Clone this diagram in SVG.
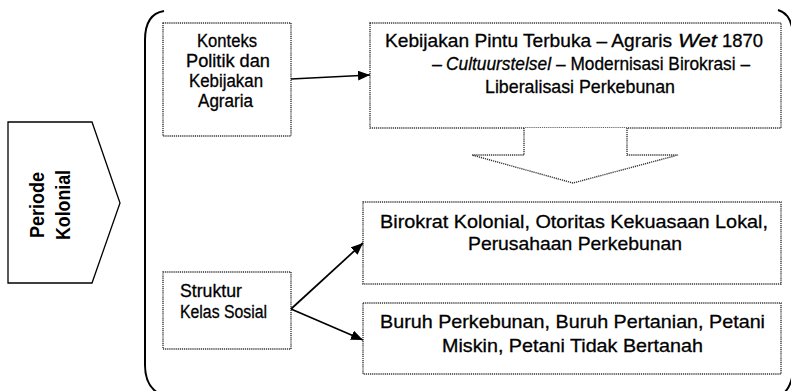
<svg xmlns="http://www.w3.org/2000/svg" width="791" height="391" viewBox="0 0 791 391">
<style>
.box{fill:#fff;stroke:#333;stroke-width:1.4;stroke-dasharray:1.2 0.9}
.t{font-family:"Liberation Sans",Arial,sans-serif;fill:#000;stroke:#000;stroke-width:0.3}
.i{font-style:italic}
.s17{font-size:18px}
.s19{font-size:19px}
.conn{stroke:#000;stroke-width:1.7;fill:none}
.brk{stroke:#000;stroke-width:2;fill:none}
</style>
<defs>
<marker id="ah" markerUnits="userSpaceOnUse" markerWidth="13" markerHeight="11" refX="12" refY="5" orient="auto">
<path d="M0,0 L12,5 L0,10 z" fill="#000"/>
</marker>
</defs>
<rect width="791" height="391" fill="#fff"/>
<g id="bracket">
<path class="brk" d="M164,11 Q145,14 145,40 L145,365 Q145,385 158,393"/>
<path class="brk" d="M778,10 Q792,14 793,35 L793,370 Q792,386 783,394"/>
</g>
<g id="periode">
<polygon points="8,122 92,122 120,203 92,283 8,283" fill="#fff" stroke="#000" stroke-width="1.3"/>
<text font-family="Liberation Sans,Arial,sans-serif" font-size="21" font-weight="bold" text-anchor="middle" transform="translate(44,205) rotate(-90)" textLength="66" lengthAdjust="spacingAndGlyphs">Periode</text>
<text font-family="Liberation Sans,Arial,sans-serif" font-size="21" font-weight="bold" text-anchor="middle" transform="translate(70,205) rotate(-90)" textLength="70" lengthAdjust="spacingAndGlyphs">Kolonial</text>
</g>
<g id="konteks">
<rect class="box" x="163" y="23" width="128" height="113"/>
<text class="t s17" x="197" y="47" textLength="60" lengthAdjust="spacingAndGlyphs">Konteks</text>
<text class="t s17" x="186" y="67" textLength="84" lengthAdjust="spacingAndGlyphs">Politik dan</text>
<text class="t s17" x="189" y="87" textLength="74" lengthAdjust="spacingAndGlyphs">Kebijakan</text>
<text class="t s17" x="198" y="107" textLength="55" lengthAdjust="spacingAndGlyphs">Agraria</text>
</g>
<g id="kebijakan">
<rect class="box" x="370" y="23" width="411" height="105"/>
<text class="t s19" x="385" y="47" textLength="287" lengthAdjust="spacingAndGlyphs">Kebijakan Pintu Terbuka – Agraris</text>
<text class="t s19 i" x="678" y="47" textLength="39" lengthAdjust="spacingAndGlyphs">Wet</text>
<text class="t s19" x="722" y="47" textLength="41" lengthAdjust="spacingAndGlyphs">1870</text>
<text class="t s19" x="432" y="70" textLength="10" lengthAdjust="spacingAndGlyphs">–</text>
<text class="t s19 i" x="446" y="70" textLength="105" lengthAdjust="spacingAndGlyphs">Cultuurstelsel</text>
<text class="t s19" x="556" y="70" textLength="194" lengthAdjust="spacingAndGlyphs">– Modernisasi Birokrasi –</text>
<text class="t s19" x="485" y="93" textLength="190" lengthAdjust="spacingAndGlyphs">Liberalisasi Perkebunan</text>
</g>
<g id="downarrow">
<polyline class="box" points="524,128 524,155 472,155 573,183 678,155 627,155 627,128"/>
</g>
<g id="struktur">
<rect class="box" x="163" y="272" width="128" height="77"/>
<text class="t s17" x="180" y="297" textLength="62" lengthAdjust="spacingAndGlyphs">Struktur</text>
<text class="t s17" x="180" y="318" textLength="87" lengthAdjust="spacingAndGlyphs">Kelas Sosial</text>
</g>
<g id="birokrat">
<rect class="box" x="363" y="202" width="418" height="82"/>
<text class="t s19" x="380" y="228" textLength="388" lengthAdjust="spacingAndGlyphs">Birokrat Kolonial, Otoritas Kekuasaan Lokal,</text>
<text class="t s19" x="468" y="250" textLength="214" lengthAdjust="spacingAndGlyphs">Perusahaan Perkebunan</text>
</g>
<g id="buruh">
<rect class="box" x="363" y="303" width="418" height="71"/>
<text class="t s19" x="380" y="328" textLength="385" lengthAdjust="spacingAndGlyphs">Buruh Perkebunan, Buruh Pertanian, Petani</text>
<text class="t s19" x="442" y="352" textLength="261" lengthAdjust="spacingAndGlyphs">Miskin, Petani Tidak Bertanah</text>
</g>
<g id="connectors">
<line class="conn" x1="291" y1="79" x2="370" y2="75" marker-end="url(#ah)"/>
<line class="conn" x1="291" y1="309" x2="363" y2="243" marker-end="url(#ah)"/>
<line class="conn" x1="291" y1="309" x2="363" y2="340" marker-end="url(#ah)"/>
</g>
</svg>
